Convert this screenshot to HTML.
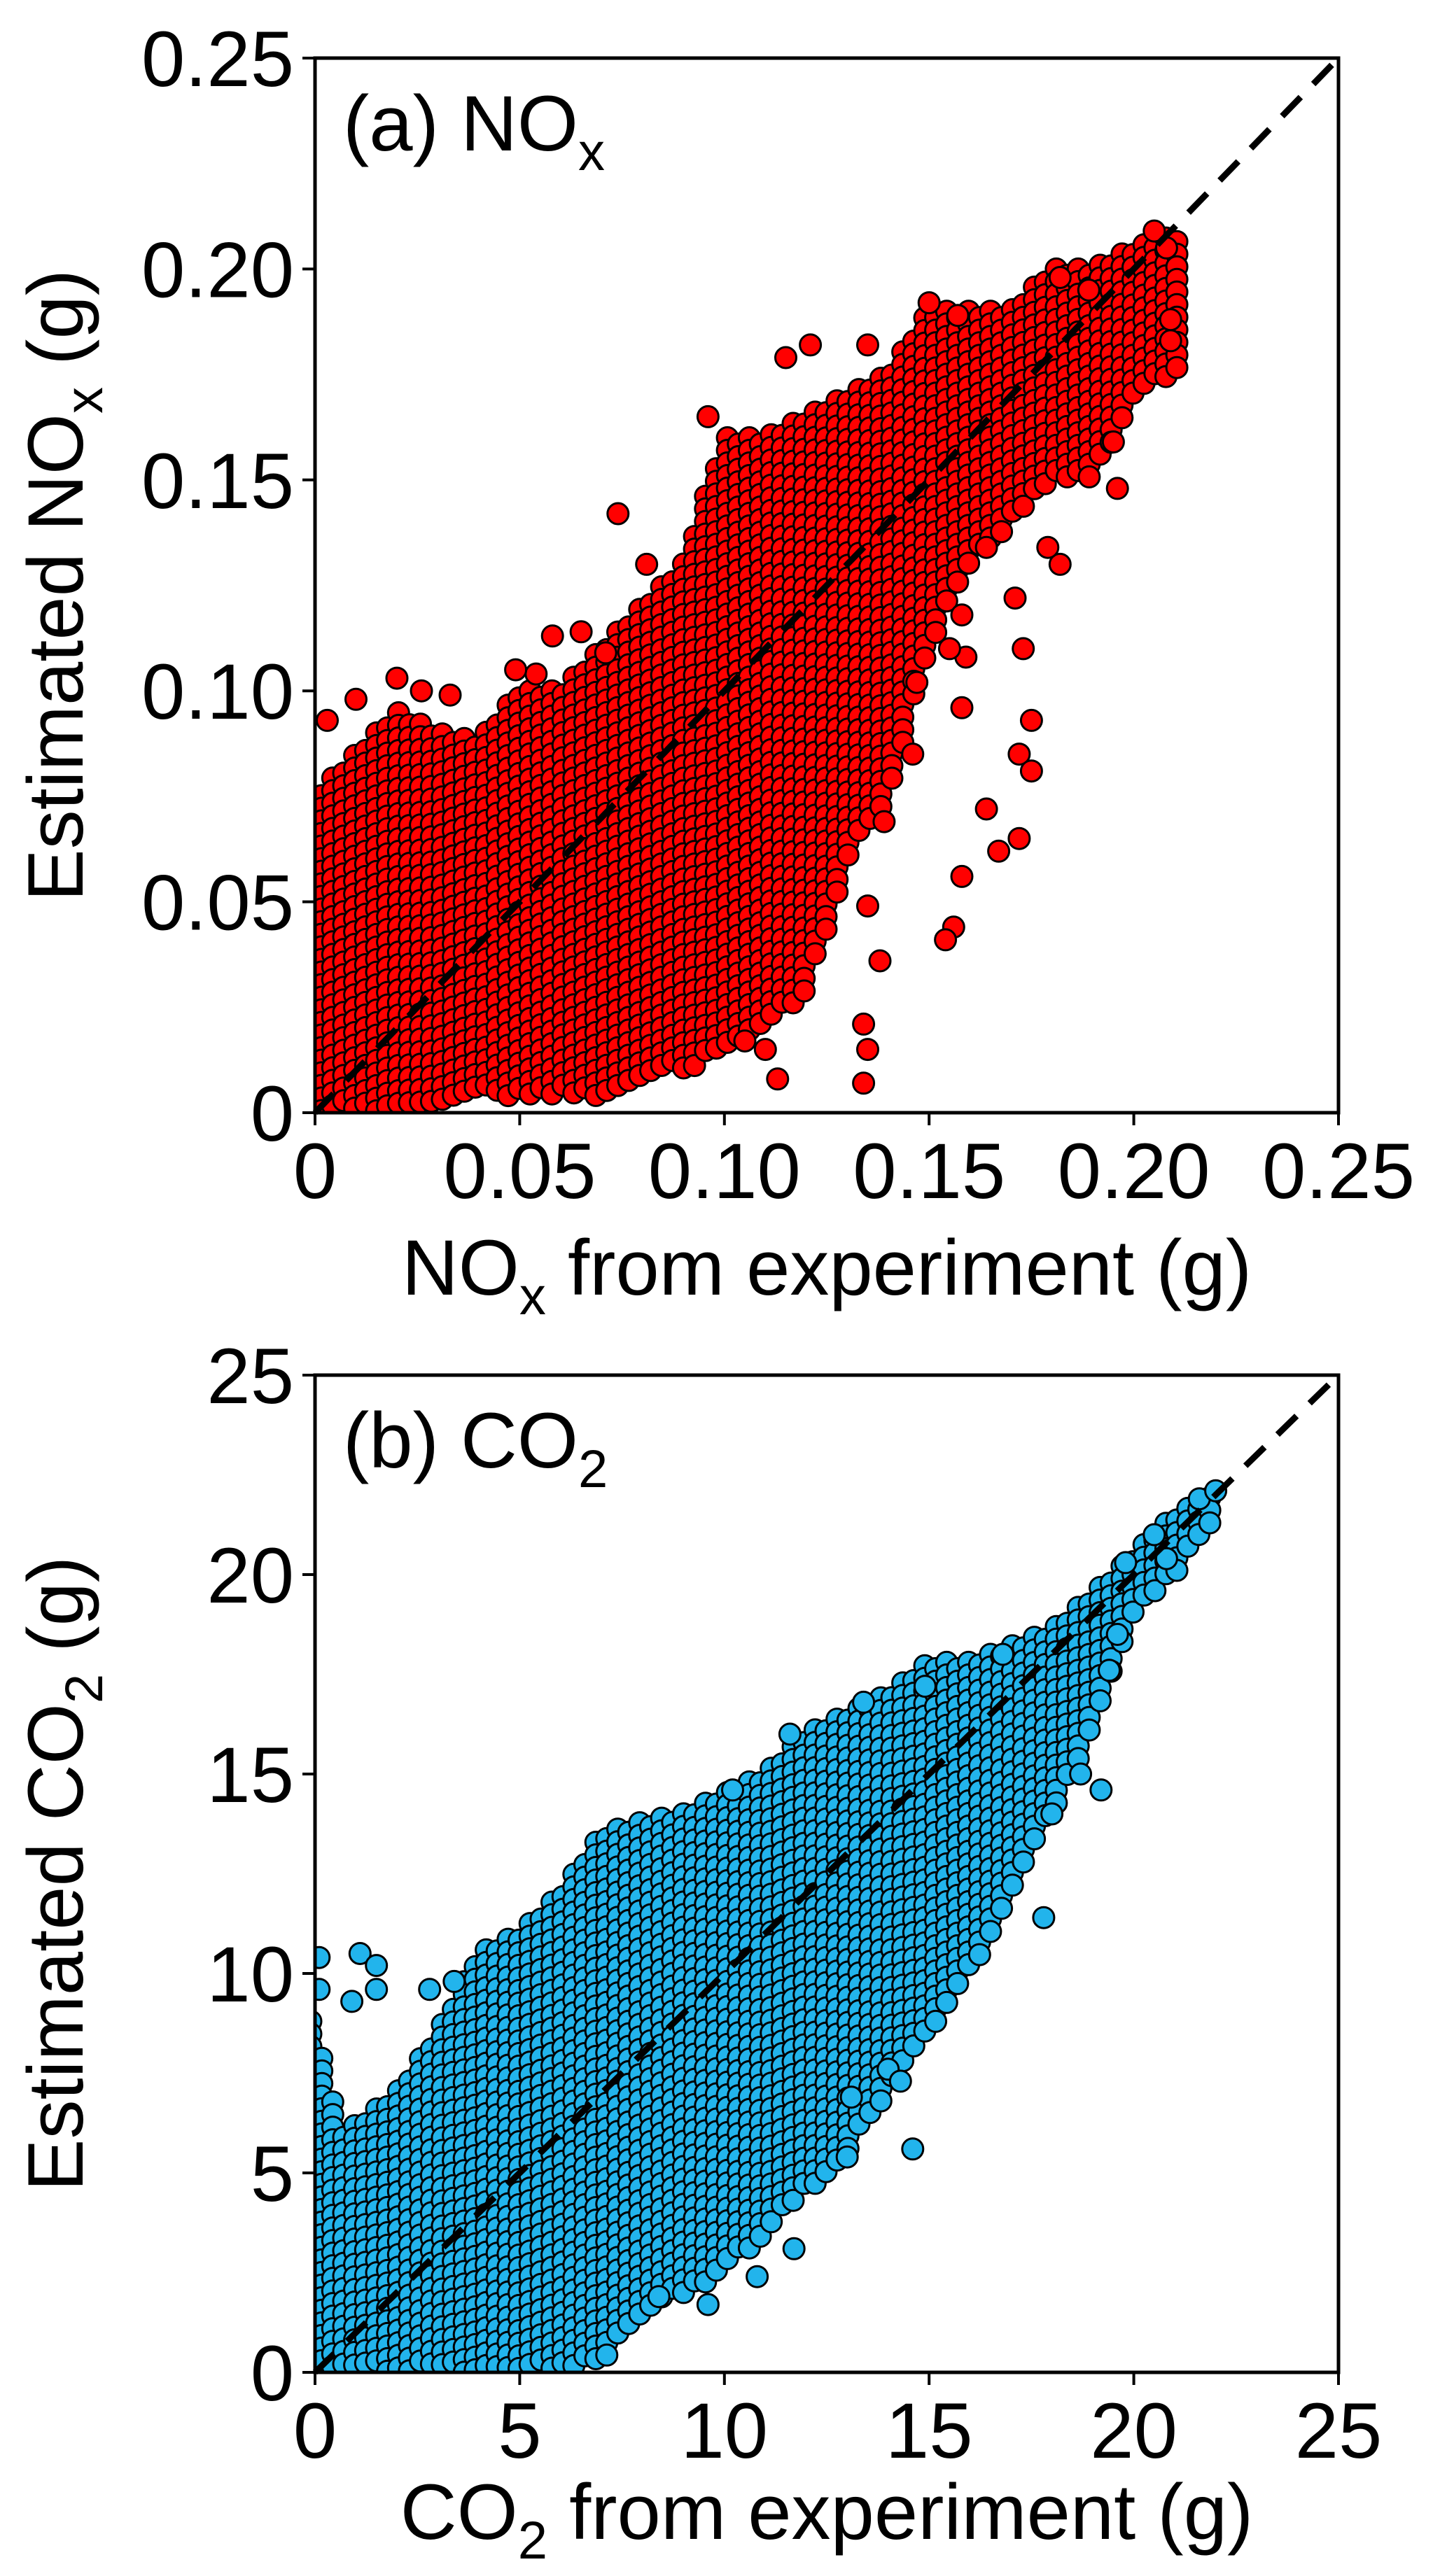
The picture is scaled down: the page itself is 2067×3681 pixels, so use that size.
<!DOCTYPE html>
<html><head><meta charset="utf-8"><style>
html,body{margin:0;padding:0;background:#fff;}
svg{display:block;font-family:"Liberation Sans",Arial,sans-serif;}
</style></head><body>
<svg id="fig" width="2067" height="3681" viewBox="0 0 2067 3681" xmlns="http://www.w3.org/2000/svg">
<defs>
<clipPath id="clipA"><rect x="450" y="83" width="1462" height="1507"/></clipPath>
<clipPath id="clipB"><rect x="450" y="1965" width="1462" height="1425"/></clipPath>
</defs>
<g id="panelA"></g>
<g id="panelB"></g>
</svg>
<script>
// ---------- Panel (a) NOx data ----------
const nTicks = [0, 0.05, 0.10, 0.15, 0.20, 0.25];
const nTickLabels = ["0", "0.05", "0.10", "0.15", "0.20", "0.25"];
const nBinX =   [0.0,0.01,0.02,0.03,0.04,0.05,0.06,0.07,0.08,0.09,0.10,0.11,0.12,0.13,0.14,0.15,0.16,0.17,0.18,0.19,0.20,0.21];
const nBinLo =  [0,    0,   0,   0.003,0.004,0.004,0.004,0.004,0.008,0.01,0.014,0.02,0.028,0.06,0.075,0.11,0.13,0.14,0.15,0.15,0.17,0.175];
const nBinHi =  [0.075,0.085,0.095,0.09,0.088,0.10,0.10,0.11,0.12,0.13,0.16,0.16,0.165,0.17,0.175,0.19,0.19,0.19,0.20,0.20,0.205,0.208];
const nOutX = [0.096,0.074,0.081,0.115,0.121,0.135,0.150,0.157,0.182,0.179,0.164,0.158,0.159,0.155,0.171,0.173,0.175,0.172,0.175,0.158,0.146,0.147,0.164,0.167,0.172,0.158,0.156,0.154,0.138,0.135,0.134,0.135,0.134,0.113,0.110,0.105,0.139,0.196,0.195,0.182,0.189,0.209,0.209,0.208,0.205,0.054,0.049,0.020,0.026,0.033,0.010,0.003,0.065,0.058,0.071];
const nOutY = [0.165,0.142,0.130,0.179,0.182,0.182,0.192,0.189,0.130,0.134,0.134,0.118,0.108,0.110,0.122,0.110,0.093,0.085,0.081,0.096,0.085,0.102,0.072,0.062,0.065,0.056,0.044,0.041,0.036,0.049,0.021,0.015,0.007,0.008,0.015,0.017,0.069,0.148,0.159,0.198,0.195,0.183,0.188,0.205,0.209,0.104,0.105,0.103,0.100,0.099,0.098,0.093,0.114,0.113,0.109];

// ---------- Panel (b) CO2 data ----------
const cTicks = [0, 5, 10, 15, 20, 25];
const cTickLabels = ["0", "5", "10", "15", "20", "25"];
const cBinX =  [0.0,0.6,1,2,3,4,5,6,7,8,9,10,11,12,13,14,15,16,17,18,19,20,21,22];
const cBinLo = [0,   0,  0,0,0,0,0,0,0.2,1.5,2,2.5,3.5,4.5,5.5,7,8.5,10,12,14,16,19,20,21.3];
const cBinHi = [8.8, 6,  6.2,7,8.5,10.5,11,12,13.5,13.8,14,14.5,15,16,16.5,17,17.8,17.8,18.2,18.6,19.5,20.5,21.5,22];
const cOutX = [0.1,0.1,1.1,1.5,0.9,1.5,2.8,3.4,13.4,11.6,10.2,14.6,14.0,14.3,13.1,17.8,18.0,19.2,18.7,19.6,19.4,11.7,10.8,9.6,8.4,14.9,16.8,19.8,20.5,20.8,21.6,22.0,13.0];
const cOutY = [10.4,9.6,10.5,10.2,9.3,9.6,9.6,9.8,16.8,16.0,14.6,5.6,7.6,7.3,6.9,11.4,14.0,14.6,15.0,18.5,17.6,3.1,2.4,1.7,1.9,17.2,18.0,20.3,21.0,20.4,21.9,22.1,5.4];

const NS = "http://www.w3.org/2000/svg";
function mk(tag, attrs, parent){ const e=document.createElementNS(NS,tag); for(const k in attrs) e.setAttribute(k,attrs[k]); parent.appendChild(e); return e; }
function interp(xs, ys, v){
  if(v<=xs[0]) return ys[0];
  for(let i=1;i<xs.length;i++){ if(v<=xs[i]){ const t=(v-xs[i-1])/(xs[i]-xs[i-1]); return ys[i-1]+t*(ys[i]-ys[i-1]); } }
  return ys[ys.length-1];
}

function drawPanel(cfg){
  const g = document.getElementById(cfg.id);
  const L=450, R=1912, T=cfg.top, B=cfg.bottom, W=R-L, H=B-T;
  const sx = v => L + v/cfg.max*W;
  const sy = v => B - v/cfg.max*H;
  const ix = p => (p-L)/W*cfg.max;
  const pts = mk("g",{"clip-path":"url(#"+cfg.clip+")"},g);
  
  
  const r=15, step=18;
  const xStart = sx(cfg.bx[0]) - 6, xEnd = sx(cfg.bx[cfg.bx.length-1]) + 6;
  let col=0;
  for(let px=xStart; px<=xEnd; px+=step*0.87, col++){
    const v = Math.max(cfg.bx[0], Math.min(cfg.bx[cfg.bx.length-1], ix(px)));
    const lo = interp(cfg.bx, cfg.lo, v), hi = interp(cfg.bx, cfg.hi, v);
    const y0 = sy(hi), y1 = sy(lo);
    const off = (col%2)*step/2;
    for(let py=y0+off; py<=y1+0.1; py+=step){
      const c = mk("circle",{cx:px.toFixed(1),cy:py.toFixed(1),r:r,fill:cfg.color,stroke:"#000","stroke-width":3},pts);
      
      
    }
  }
  for(let i=0;i<cfg.ox.length;i++){
    const c = mk("circle",{cx:sx(cfg.ox[i]).toFixed(1),cy:sy(cfg.oy[i]).toFixed(1),r:r,fill:cfg.color,stroke:"#000","stroke-width":3},pts);
    
    
  }
  const ln = mk("line",{x1:sx(0),y1:sy(0),x2:sx(cfg.max),y2:sy(cfg.max),stroke:"#000","stroke-width":9,"stroke-dasharray":"38 26"},g);
  
  
  const fr = mk("rect",{x:L,y:T,width:W,height:H,fill:"none",stroke:"#000","stroke-width":5},g);
  
  
  for(let i=0;i<cfg.ticks.length;i++){
    const v=cfg.ticks[i];
    const tx = mk("line",{x1:sx(v),y1:B,x2:sx(v),y2:B+18,stroke:"#000","stroke-width":4},g);
    
    
    const ty = mk("line",{x1:L-18,y1:sy(v),x2:L,y2:sy(v),stroke:"#000","stroke-width":4},g);
    
    
    const xl = mk("text",{x:sx(v),y:B+122,"font-size":112,"text-anchor":"middle"},g);
    xl.textContent = cfg.labels[i];
    
    
    const yl = mk("text",{x:L-30,y:sy(v)+40,"font-size":112,"text-anchor":"end"},g);
    yl.textContent = cfg.labels[i];
    
    
  }
  const pl = mk("text",{x:490,y:T+132,"font-size":112},g);
  
  
  pl.appendChild(document.createTextNode(cfg.panel+" "+cfg.sp));
  const s1 = mk("tspan",{"font-size":76,dy:28},pl); s1.textContent = cfg.sub;
  const xt = mk("text",{x:(L+R)/2,y:cfg.xTitleY,"font-size":112,"text-anchor":"middle"},g);
  
  
  xt.appendChild(document.createTextNode(cfg.sp));
  const s2 = mk("tspan",{"font-size":76,dy:28},xt); s2.textContent = cfg.sub;
  const s3 = mk("tspan",{dy:-28},xt); s3.textContent = " from experiment (g)";
  const cy=(T+B)/2;
  const yt = mk("text",{x:118,y:cy,"font-size":112,"text-anchor":"middle",transform:"rotate(-90 118 "+cy+")"},g);
  
  
  yt.appendChild(document.createTextNode("Estimated "+cfg.sp));
  const s4 = mk("tspan",{"font-size":76,dy:28},yt); s4.textContent = cfg.sub;
  const s5 = mk("tspan",{dy:-28},yt); s5.textContent = " (g)";
}

drawPanel({id:"panelA",clip:"clipA",top:83,bottom:1590,max:0.25,color:"#ff0000",seriesName:"nox-points",
  bx:nBinX,lo:nBinLo,hi:nBinHi,ox:nOutX,oy:nOutY,ticks:nTicks,labels:nTickLabels,
  panel:"(a)",sp:"NO",sub:"x",xTitleY:1850});
drawPanel({id:"panelB",clip:"clipB",top:1965,bottom:3390,max:25,color:"#22b4ec",seriesName:"co2-points",
  bx:cBinX,lo:cBinLo,hi:cBinHi,ox:cOutX,oy:cOutY,ticks:cTicks,labels:cTickLabels,
  panel:"(b)",sp:"CO",sub:"2",xTitleY:3628});
</script>
</body></html>
